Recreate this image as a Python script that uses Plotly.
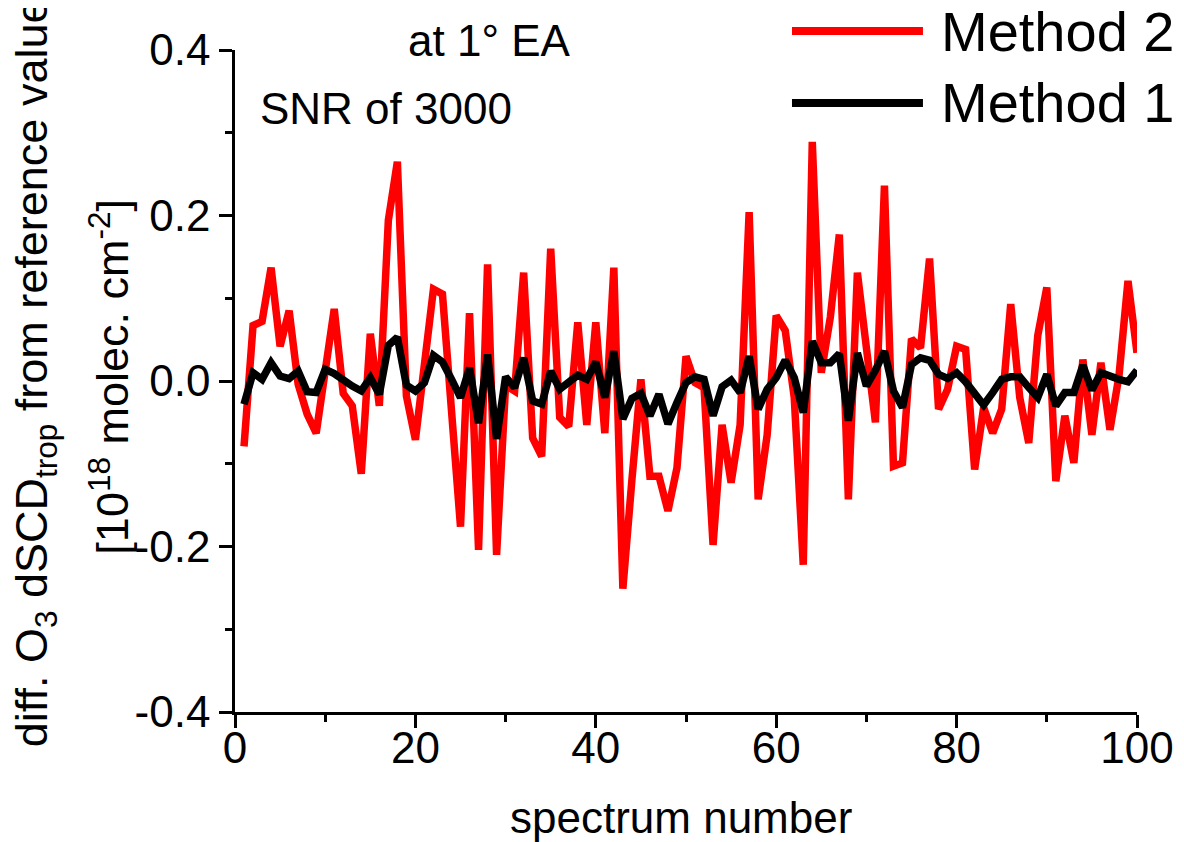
import plotly.graph_objects as go

spectrum = list(range(1, 101))

method2 = [
    -0.079, 0.067, 0.072, 0.137, 0.042, 0.085, -0.004, -0.040, -0.063, 0.012,
    0.087, -0.015, -0.030, -0.112, 0.057, -0.030, 0.194, 0.265, -0.018, -0.071,
    0.020, 0.111, 0.105, -0.035, -0.176, 0.082, -0.204, 0.141, -0.210, -0.005,
    -0.012, 0.131, -0.069, -0.091, 0.160, -0.044, -0.055, 0.071, -0.053, 0.071,
    -0.063, 0.137, -0.251, -0.120, 0.002, -0.115, -0.115, -0.157, -0.105, 0.030,
    -0.002, -0.008, -0.198, -0.053, -0.123, -0.053, 0.204, -0.143, -0.065, 0.079,
    0.061, -0.020, -0.222, 0.289, 0.010, 0.077, 0.177, -0.143, 0.131, 0.040,
    -0.050, 0.236, -0.103, -0.099, 0.051, 0.040, 0.148, -0.034, -0.010, 0.042,
    0.038, -0.107, -0.032, -0.063, -0.034, 0.093, -0.020, -0.075, 0.055, 0.113,
    -0.121, -0.042, -0.099, 0.026, -0.065, 0.022, -0.059, 0.006, 0.121, 0.034,
]

method1 = [
    -0.028, 0.010, 0.002, 0.022, 0.006, 0.003, 0.012, -0.013, -0.014, 0.014,
    0.009, 0.001, -0.006, -0.012, 0.004, -0.016, 0.043, 0.053, -0.005, -0.012,
    -0.002, 0.031, 0.023, 0.002, -0.020, 0.016, -0.051, 0.032, -0.070, 0.005,
    -0.008, 0.028, -0.024, -0.028, 0.012, -0.010, -0.002, 0.007, 0.002, 0.023,
    -0.020, 0.036, -0.046, -0.021, -0.015, -0.042, -0.016, -0.052, -0.026, -0.002,
    0.005, 0.002, -0.042, -0.007, 0.001, -0.014, 0.030, -0.034, -0.010, 0.004,
    0.025, 0.004, -0.038, 0.048, 0.022, 0.022, 0.033, -0.048, 0.034, -0.006,
    0.013, 0.036, -0.012, -0.032, 0.020, 0.028, 0.025, 0.008, 0.003, 0.010,
    -0.001, -0.014, -0.029, -0.014, 0.002, 0.005, 0.005, -0.008, -0.020, 0.008,
    -0.030, -0.014, -0.014, 0.019, -0.011, 0.010, 0.005, 0.002, -0.001, 0.013,
]

x_ticks = [0, 20, 40, 60, 80, 100]
x_ticklabels = ["0", "20", "40", "60", "80", "100"]
x_minor = [10, 30, 50, 70, 90]
y_ticks = [-0.4, -0.2, 0.0, 0.2, 0.4]
y_ticklabels = ["-0.4", "-0.2", "0.0", "0.2", "0.4"]
y_minor = [-0.3, -0.1, 0.1, 0.3]

series_names = ["Method 2", "Method 1"]
series_colors = ["#ff0000", "#000000"]

FONT = "Liberation Sans, Arial, sans-serif"

fig = go.Figure()
fig.add_trace(go.Scatter(x=spectrum, y=method2, mode="lines", name=series_names[0],
                         line=dict(color=series_colors[0], width=7.5)))
fig.add_trace(go.Scatter(x=spectrum, y=method1, mode="lines", name=series_names[1],
                         line=dict(color=series_colors[1], width=7.5)))

axis_common = dict(showline=True, linecolor="black", linewidth=2.5, ticks="outside",
                   tickwidth=2.5, tickcolor="black", ticklen=13, showgrid=False,
                   zeroline=False, mirror=False,
                   tickfont=dict(family=FONT, size=44, color="black"))

fig.update_xaxes(range=[0, 100], tickmode="array", tickvals=x_ticks, ticktext=x_ticklabels,
                 minor=dict(tickmode="array", tickvals=x_minor, ticks="outside", ticklen=7,
                            tickwidth=2.5, tickcolor="black"),
                 ticklabelstandoff=-18,
                 **axis_common)
fig.update_yaxes(range=[-0.4, 0.4], tickmode="array", tickvals=y_ticks, ticktext=y_ticklabels,
                 minor=dict(tickmode="array", tickvals=y_minor, ticks="outside", ticklen=7,
                            tickwidth=2.5, tickcolor="black"),
                 **axis_common)

# manual legend (long line samples)
legend_y = [1.0287, 0.920]
for name, color, ly in zip(series_names, series_colors, legend_y):
    fig.add_shape(type="line", xref="paper", yref="paper", x0=0.6175, x1=0.7627, y0=ly, y1=ly,
                  line=dict(color=color, width=8))
    fig.add_annotation(text=name, xref="paper", yref="paper", x=0.78, y=ly,
                       xanchor="left", yanchor="middle", showarrow=False,
                       font=dict(family=FONT, size=56, color="black"))

fig.add_annotation(text="at 1° EA", xref="paper", yref="paper", x=0.2827, y=1.0136,
                   xanchor="center", yanchor="middle", showarrow=False,
                   font=dict(family=FONT, size=44, color="black"))
fig.add_annotation(text="SNR of 3000", xref="paper", yref="paper", x=0.0255, y=0.911,
                   xanchor="left", yanchor="middle", showarrow=False,
                   font=dict(family=FONT, size=44, color="black"))

# x-axis title
fig.add_annotation(text="spectrum number", xref="paper", yref="paper", x=0.495, y=-0.16,
                   xanchor="center", yanchor="middle", showarrow=False,
                   font=dict(family=FONT, size=44, color="black"))

# y-axis title, two lines
fig.add_annotation(text="diff. O<sub>3</sub> dSCD<sub>trop</sub> from reference value of",
                   xref="paper", yref="paper", x=-0.222, y=-0.056,
                   xanchor="center", yanchor="bottom", textangle=-90, showarrow=False,
                   font=dict(family=FONT, size=45, color="black"))
fig.add_annotation(text="[10<sup>18</sup> molec. cm<sup>-2</sup>]",
                   xref="paper", yref="paper", x=-0.139, y=0.506,
                   xanchor="center", yanchor="middle", textangle=-90, showarrow=False,
                   font=dict(family=FONT, size=45, color="black"))

# page has an 8px body offset, so the figure is sized/margined to compensate
fig.update_layout(width=1176, height=834, showlegend=False,
                  margin=dict(l=227, r=47, t=42, b=130, autoexpand=False),
                  plot_bgcolor="white", paper_bgcolor="white",
                  font=dict(family=FONT, color="black"))

fig.write_html("out.html")
